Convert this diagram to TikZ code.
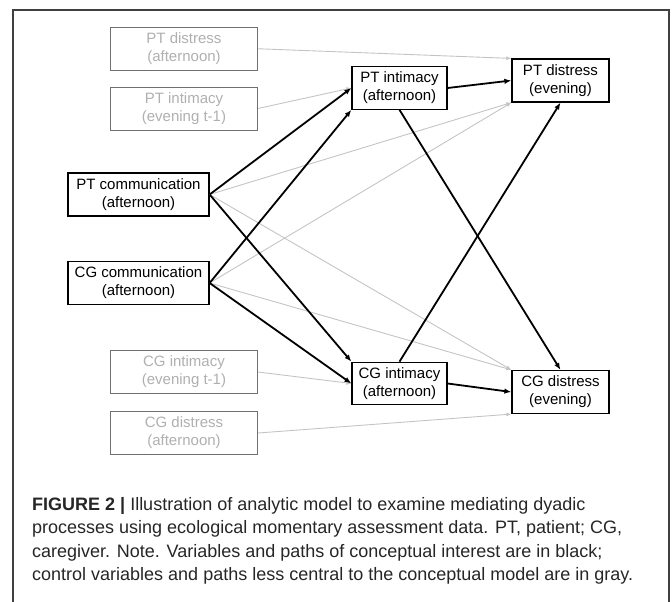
\documentclass[tikz,border=0pt]{standalone}
\usepackage{fontspec}
\setmainfont{Liberation Sans}
\usetikzlibrary{arrows.meta}
\definecolor{lgtext}{HTML}{B0B0B0}
\definecolor{lgborder}{HTML}{707070}
\definecolor{lgline}{HTML}{C4C4C4}
\definecolor{framec}{HTML}{404040}
\tikzset{
  mainbox/.style={draw=black, line width=1.2pt, fill=white, align=center, inner sep=0pt,
    font=\fontsize{15}{18}\selectfont, text=black},
  ctrlbox/.style={draw=lgborder, line width=1pt, fill=white, align=center, inner sep=0pt,
    font=\fontsize{15}{18}\selectfont, text=lgtext},
  sidebox/.style={minimum width=147pt, minimum height=43pt},
  commbox/.style={minimum width=141pt, minimum height=43pt},
  midbox/.style={minimum width=95pt, minimum height=42.5pt},
  endbox/.style={minimum width=97pt, minimum height=43pt},
  keypath/.style={draw=black, line width=1.8pt, -{Latex[length=7pt,width=5.5pt]}},
  ctrlpath/.style={draw=lgline, line width=0.9pt, -{Latex[length=5pt,width=4pt]}},
  capline/.style={anchor=base west, inner sep=0pt, font=\fontsize{18}{24}\selectfont, text=black!85}
}
\begin{document}
\begin{tikzpicture}[x=1pt,y=-1pt]
\useasboundingbox (0,0) rectangle (672,602);
% frame
\draw[framec, line width=1.3pt] (13,602) -- (13,10) -- (669,10) -- (669,602);

% nodes
\node[ctrlbox, sidebox] (ptda) at (184,48.75) {PT distress\\(afternoon)};
\node[ctrlbox, sidebox] (ptie) at (184,108.5) {PT intimacy\\(evening t-1)};
\node[mainbox, commbox] (ptc) at (138.5,194.5) {PT communication\\(afternoon)};
\node[mainbox, commbox] (cgc) at (138.5,283) {CG communication\\(afternoon)};
\node[ctrlbox, sidebox] (cgie) at (184,372) {CG intimacy\\(evening t-1)};
\node[ctrlbox, sidebox] (cgda) at (184,433) {CG distress\\(afternoon)};
\node[mainbox, midbox] (ptia) at (399.5,88) {PT intimacy\\(afternoon)};
\node[mainbox, endbox] (ptde) at (560.5,80.5) {PT distress\\(evening)};
\node[mainbox, midbox] (cgia) at (399.5,383.5) {CG intimacy\\(afternoon)};
\node[mainbox, endbox] (cgde) at (560.5,392) {CG distress\\(evening)};

% control paths (gray)
\draw[ctrlpath] (ptda.east) -- (ptde.north west);
\draw[ctrlpath] (ptie.east) -- (ptia.west);
\draw[ctrlpath] (ptc.east) -- (ptde.south west);
\draw[ctrlpath] (cgc.east) -- (ptde.south west);
\draw[ctrlpath] (ptc.east) -- (cgde.north west);
\draw[ctrlpath] (cgc.east) -- (cgde.north west);
\draw[ctrlpath] (cgie.east) -- (cgia.west);
\draw[ctrlpath] (cgda.east) -- (cgde.south west);

% key paths (black)
\draw[keypath] (ptc.east) -- (ptia.west);
\draw[keypath] (cgc.east) -- (ptia.south west);
\draw[keypath] (ptc.east) -- (cgia.north west);
\draw[keypath] (cgc.east) -- (cgia.west);
\draw[keypath] (ptia.east) -- (ptde.west);
\draw[keypath] (cgia.east) -- (cgde.west);
\draw[keypath] (ptia.south) -- (cgde.north);
\draw[keypath] (cgia.north) -- (ptde.south);

% caption
\node[capline] (cap1) at (32,510) {\textbf{FIGURE 2 |} Illustration of analytic model to examine mediating dyadic};
\node[capline] (cap2) at (32,533.5) {processes using ecological momentary assessment data. PT, patient; CG,};
\node[capline] (cap3) at (32,557) {caregiver. Note. Variables and paths of conceptual interest are in black;};
\node[capline] (cap4) at (32,580.5) {control variables and paths less central to the conceptual model are in gray.};
\end{tikzpicture}
\end{document}
